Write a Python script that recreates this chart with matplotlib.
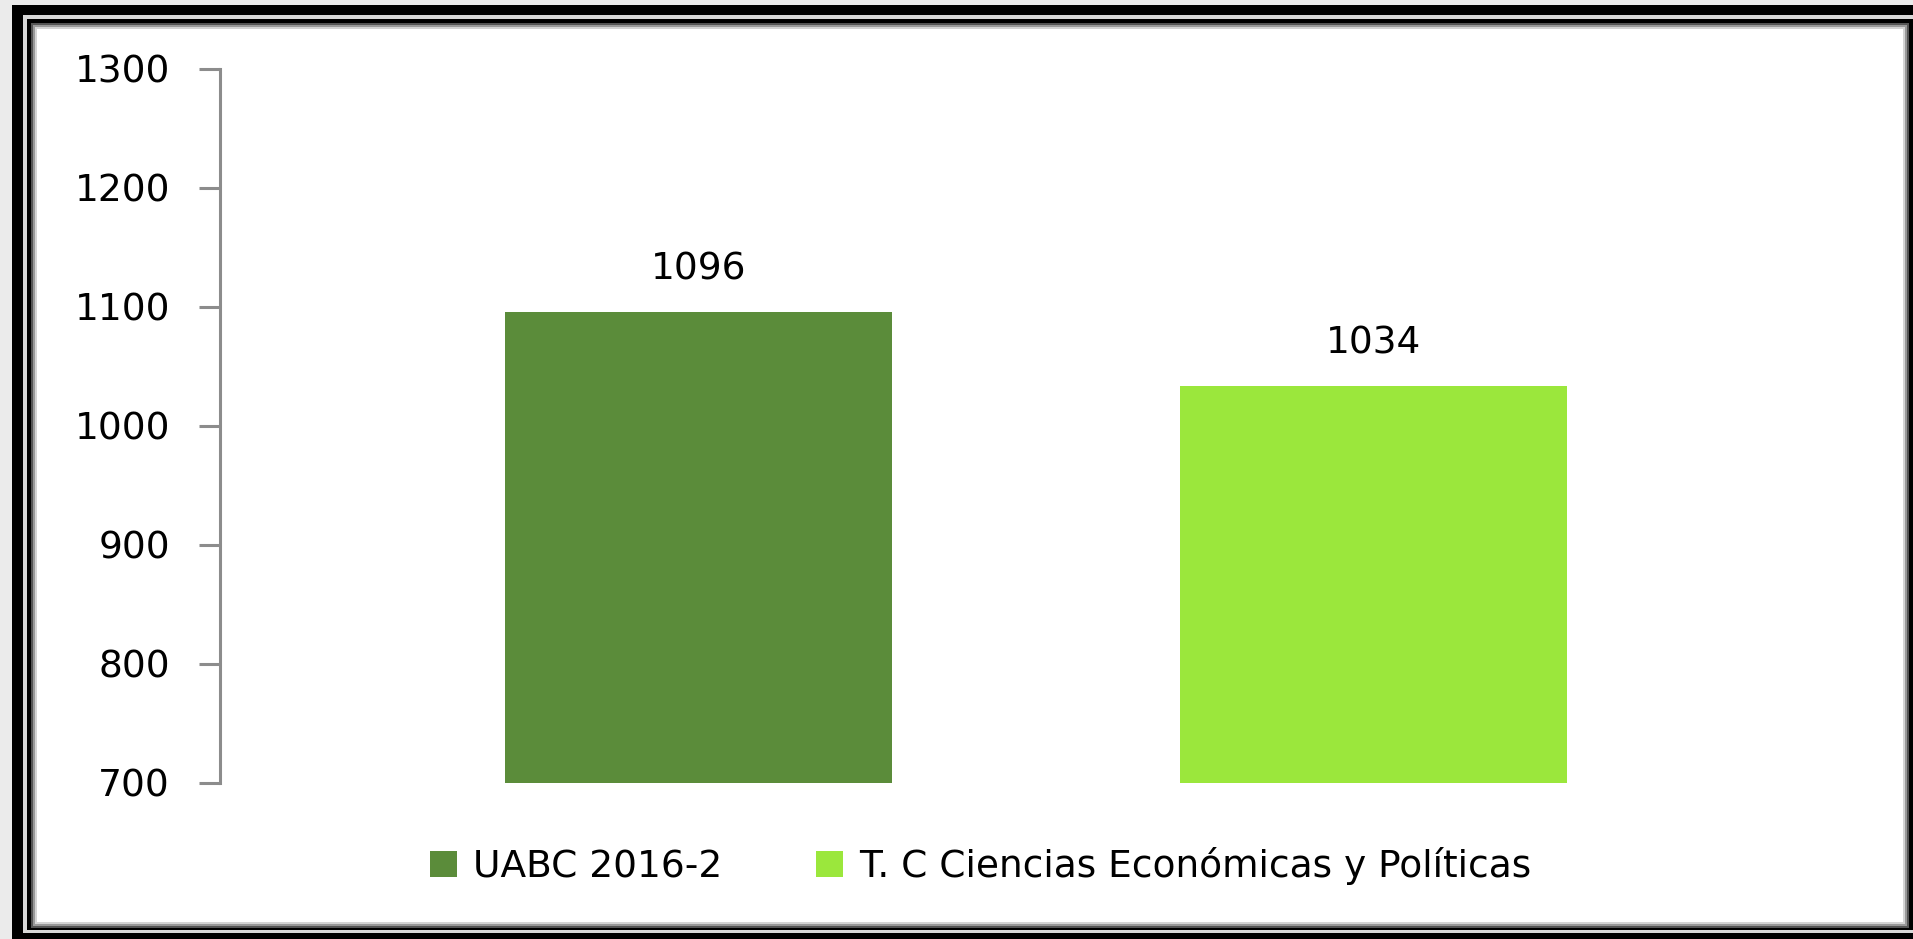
import matplotlib
matplotlib.use("Agg")
import matplotlib.pyplot as plt
from matplotlib.patches import Rectangle, Patch

# data
series = ["UABC 2016-2", "T. C Ciencias Económicas y Políticas"]
values = [1096, 1034]
colors = ["#5b8c3a", "#9be73c"]
yticks = [700, 800, 900, 1000, 1100, 1200, 1300]

W, H = 1913, 939
FS = 27
fig = plt.figure(figsize=(W / 100, H / 100), dpi=100)
fig.patch.set_facecolor("#ebebeb")


def frame(x0, y0, x1, y1, color):
    # pixel box, y measured from the top
    fig.add_artist(Rectangle((x0 / W, 1 - y1 / H), (x1 - x0) / W, (y1 - y0) / H,
                             transform=fig.transFigure, facecolor=color,
                             edgecolor="none", zorder=0))


frame(12, 5, W, H, "black")
frame(23, 15, W, 933, "#d8d8d8")
frame(27, 19, W, 930, "black")
frame(31, 23, 1909, 928, "#555555")
frame(33, 25, 1907, 926, "#999999")
frame(35, 27, 1905, 924, "#d4d4d4")
frame(37, 29, 1903, 922, "white")

ax = fig.add_axes([220 / W, 156 / H, (1852 - 220) / W, (870 - 156) / H])
ax.set_facecolor("none")

x = list(range(len(values)))
bars = ax.bar(x, [v - 700 for v in values], bottom=700, width=0.572, color=colors)
for xi, v in zip(x, values):
    ax.text(xi, v + 27, str(v), ha="center", va="baseline", fontsize=FS)

ax.set_ylim(700, 1300)
ax.set_xlim(-0.709, 1.709)
ax.set_yticks(yticks)
ax.set_xticks([])
for s in ["top", "right", "bottom"]:
    ax.spines[s].set_visible(False)
ax.spines["left"].set_color("#8c8c8c")
ax.spines["left"].set_linewidth(2.2)
ax.tick_params(axis="y", length=15, width=2.2, color="#8c8c8c", pad=21, labelsize=FS)

handles = [Patch(facecolor=c, edgecolor="none") for c in colors]
fig.legend(handles, series, loc="center", bbox_to_anchor=(981 / W, 1 - 866 / H),
           ncol=2, frameon=False, fontsize=FS, handlelength=0.72, handleheight=0.67,
           handletextpad=0.43, columnspacing=2.5)

fig.savefig("out.png", dpi=100, facecolor=fig.get_facecolor())
